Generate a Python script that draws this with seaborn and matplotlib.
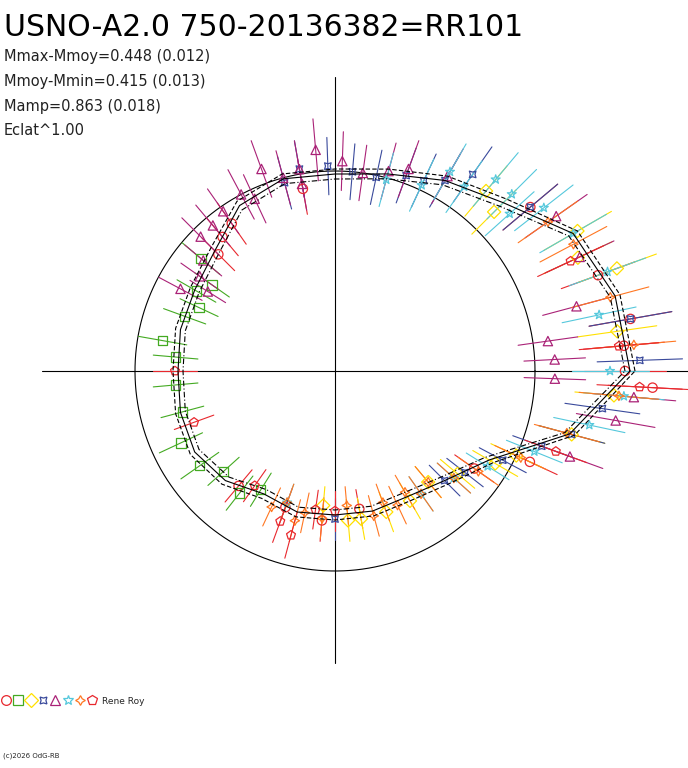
import numpy as np
import matplotlib
matplotlib.use("Agg")
import matplotlib.pyplot as plt
import seaborn as sns

sns.set_theme(style="white")
plt.rcParams['font.family'] = ['DejaVu Sans']

# radii are in pixels of the original plot; the reference circle is 200
SCALE = 200.0

# mean light curve, angle step 15 deg starting at 0 (counter-clockwise)
curve_ang = np.arange(0, 360, 15)
curve_r = [295, 290, 275, 238, 220, 204, 197, 199, 191, 170, 162, 160,
           157, 160, 162, 155, 142, 146, 144, 145, 145, 155, 178, 243]

series = [
    # name, colour, marker, angles, radii
    ("red_circle", "#e8282e", "o",
     [130, 135, 125, 20, 10, -3, 0, 5, 40, -25, -35, 250, 265, 100, 230, 280],
     [175, 165, 180, 280, 300, 318, 290, 290, 255, 215, 170, 145, 150, 185, 150, 140]),
    ("green_square", "#44aa22", "s",
     [140, 150, 160, 170, 175, 185, 195, 205, 215, 222, 232, 238, 155, 145],
     [175, 160, 160, 175, 160, 160, 158, 170, 165, 150, 155, 140, 150, 150]),
    ("yellow_diamond", "#ffe000", "D",
     [50, 45, 30, 20, -5, -15, -25, -30, -40, -50, -60, -70, -80, 275, 265, 8, 25],
     [235, 225, 280, 300, 280, 245, 200, 185, 160, 145, 150, 150, 150, 150, 135, 285, 268]),
    ("blue_star4", "#3a4a9c", (4, 1, 45),
     [85, 78, 70, 65, 60, 55, 92, 100, 105, 40, 10, -8, -20, -28, -38, -45, 270, -15, 2],
     [200, 198, 208, 210, 220, 240, 205, 205, 195, 255, 300, 270, 220, 190, 165, 155, 148, 245, 305]),
    ("purple_triangle", "#aa2277", "^",
     [95, 100, 105, 110, 88, 82, 75, 70, 118, 125, 130, 135, 140, 145, 60, 3, -2, 8, 15, 25, 35,
      -10, -20, -5, 100, 115, 148, 152],
     [222, 205, 200, 215, 210, 200, 207, 215, 200, 195, 190, 190, 172, 165, 225, 220, 220, 215,
      250, 270, 270, 285, 250, 300, 190, 190, 150, 175]),
    ("cyan_star", "#55c8dc", "*",
     [75, 65, 60, 55, 50, 45, 42, 38, 30, 20, 12, 0, -5, -12, -22, -32, -42, -55, 250],
     [198, 205, 230, 225, 250, 250, 235, 265, 275, 290, 270, 275, 290, 260, 215, 180, 160, 150, 140]),
    ("orange_star4", "#ff7722", (4, 1, 0),
     [265, 258, 250, 275, 285, 290, 295, 300, 305, 310, 318, -35, -25, -15, -5, 5, 15, 28, 35, 245, 255],
     [148, 145, 140, 135, 150, 140, 148, 140, 150, 145, 160, 175, 205, 240, 285, 300, 285, 270, 260, 150, 155]),
    ("red_pentagon", "#e8282e", "p",
     [180, 250, 255, 262, 270, 235, -20, 5, -3, 25, 200],
     [160, 160, 170, 140, 140, 140, 235, 285, 305, 260, 150]),
]
err_frac = 0.14

W, H = 688, 768
CX, CY = 335, 371

fig = plt.figure(figsize=(W / 100, H / 100), dpi=100)
ax = fig.add_axes([0, 0, 1, 1])
ax.set_xlim(-CX / SCALE, (W - CX) / SCALE)
ax.set_ylim(-(H - CY) / SCALE, CY / SCALE)
ax.set_axis_off()

# axes cross and reference circle
ax.plot([-1.465, (W - CX) / SCALE], [0, 0], color="black", lw=0.8)
ax.plot([0, 0], [-1.46, 1.47], color="black", lw=0.8)
t = np.linspace(0, 2 * np.pi, 400)
ax.plot(np.cos(t), np.sin(t), color="black", lw=0.8)

# data points with radial error bars
for name, col, mk, ang, rad in series:
    a = np.radians(np.array(ang, dtype=float))
    r = np.array(rad, dtype=float) / SCALE
    x, y = r * np.cos(a), r * np.sin(a)
    e = err_frac * r
    for xi, yi, ai, ei in zip(x, y, a, e):
        ax.plot([xi - ei * np.cos(ai), xi + ei * np.cos(ai)],
                [yi - ei * np.sin(ai), yi + ei * np.sin(ai)], color=col, lw=0.8)
    sns.scatterplot(x=x, y=y, ax=ax, marker=mk, s=45, facecolors="none",
                    edgecolor=col, linewidth=0.9, zorder=3, legend=False)

# mean curve and envelope
ca = np.radians(np.append(curve_ang, 360))
cr = np.append(curve_r, curve_r[0]) / SCALE
for off, ls in [(0.0, "-"), (0.025, (0, (4, 2))), (-0.025, (0, (5, 2, 1, 2)))]:
    ax.plot((cr + off) * np.cos(ca), (cr + off) * np.sin(ca), color="black", lw=0.8, ls=ls, zorder=4)

# texts
fig.text(4 / W, 1 - 28 / H, "USNO-A2.0 750-20136382=RR101", fontsize=21.5, va="center", ha="left",
         color="black")
for i, s in enumerate(["Mmax-Mmoy=0.448 (0.012)", "Mmoy-Mmin=0.415 (0.013)",
                       "Mamp=0.863 (0.018)", "Eclat^1.00"]):
    fig.text(4 / W, 1 - (57 + 24.5 * i) / H, s, fontsize=10.5, va="center", ha="left", color="#222222")

# legend row
leg = [(c, m) for _, c, m, _, _ in series]
for i, (c, m) in enumerate(leg):
    fig.add_artist(plt.Line2D([(6 + 12.3 * i) / W], [1 - 700 / H], marker=m, ms=7, mfc="none",
                              mec=c, mew=0.9, transform=fig.transFigure))
fig.text(102 / W, 1 - 701 / H, "Rene Roy", fontsize=6.5, va="center", ha="left")
fig.text(3 / W, 1 - 756 / H, "(c)2026 OdG-RB", fontsize=5, va="center", ha="left")

fig.savefig("out.png", dpi=100)
